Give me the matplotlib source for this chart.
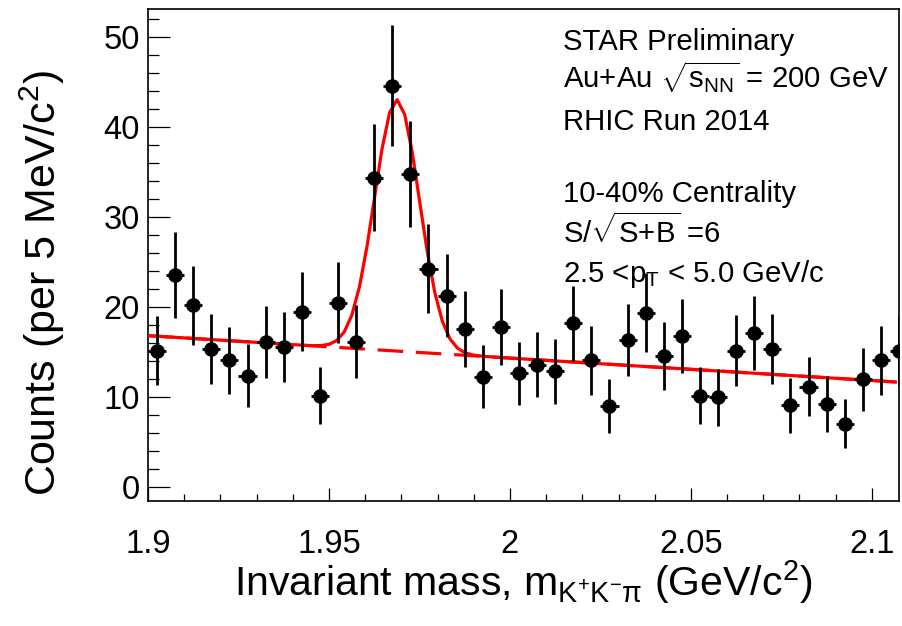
import numpy as np
import matplotlib
matplotlib.use("Agg")
import matplotlib.pyplot as plt
from matplotlib.ticker import MultipleLocator

plt.rcParams['font.family'] = ['Liberation Sans', 'DejaVu Sans']
plt.rcParams['mathtext.fontset'] = 'custom'
plt.rcParams['mathtext.rm'] = 'Liberation Sans'
plt.rcParams['mathtext.it'] = 'Liberation Sans:italic'
plt.rcParams['mathtext.bf'] = 'Liberation Sans:bold'

# histogram: 5 MeV bins starting at 1.900 GeV
mass_lo = 1.900
bin_width = 0.005
counts = [15.2, 23.6, 20.2, 15.4, 14.1, 12.4, 16.1, 15.6, 19.5, 10.2,
          20.5, 16.2, 34.4, 44.6, 34.8, 24.3, 21.3, 17.6, 12.3, 17.8,
          12.7, 13.6, 12.9, 18.2, 14.1, 9.0, 16.4, 19.4, 14.6, 16.8,
          10.2, 10.0, 15.2, 17.1, 15.4, 9.1, 11.2, 9.3, 7.1, 12.0,
          14.1, 15.2]
errors = [3.8, 4.8, 4.4, 3.9, 3.7, 3.5, 4.0, 3.9, 4.4, 3.2,
          4.5, 4.0, 5.9, 6.7, 5.9, 4.9, 4.6, 4.2, 3.5, 4.2,
          3.5, 3.6, 3.6, 4.2, 3.8, 3.0, 4.0, 4.4, 3.8, 4.1,
          3.2, 3.2, 3.9, 4.1, 3.9, 3.0, 3.3, 3.1, 2.7, 3.5,
          3.8, 3.9]

# fit: gaussian + linear background
fit_mean = 1.9688
fit_sigma = 0.0062
fit_amp = 27.9
bg_at_lo = 16.85
bg_slope = -24.9
fit_range = (1.900, 2.1065)

centers = mass_lo + bin_width * (np.arange(len(counts)) + 0.5)

def background(x):
    return bg_at_lo + bg_slope * (x - mass_lo)

def total(x):
    return background(x) + fit_amp * np.exp(-0.5 * ((x - fit_mean) / fit_sigma) ** 2)

xf = np.linspace(fit_range[0], fit_range[1], 100)

fig = plt.figure(figsize=(9.03, 6.26), dpi=100)
ax = fig.add_axes([148 / 903, 1 - 501 / 626, 751 / 903, 492 / 626])

ax.plot(xf, background(xf), color='red', lw=2.3, dashes=(8, 4), zorder=2)
ax.plot(xf, total(xf), color='red', lw=2.3, zorder=3)
ax.errorbar(centers, counts, yerr=errors, xerr=bin_width / 2, fmt='o',
            color='black', ms=9.5, elinewidth=2.0, capsize=0, zorder=4,
            clip_on=True)

ax.set_xlim(1.9, 2.1075)
ax.set_ylim(-1.5, 53.1)

ax.xaxis.set_major_locator(MultipleLocator(0.05))
ax.xaxis.set_minor_locator(MultipleLocator(0.01))
ax.yaxis.set_major_locator(MultipleLocator(10))
ax.yaxis.set_minor_locator(MultipleLocator(2))
ax.xaxis.set_major_formatter(plt.FuncFormatter(lambda v, p: f'{v:g}'))

ax.tick_params(which='both', direction='in', top=False, right=False,
               width=0.9, labelsize=23.5)
ax.tick_params(axis='y', which='major', length=16, pad=6)
ax.tick_params(axis='y', which='minor', length=8)
ax.tick_params(axis='x', which='major', length=9.5, pad=20)
ax.tick_params(axis='x', which='minor', length=5)
for s in ax.spines.values():
    s.set_linewidth(1.2)

ax.set_ylabel(r'Counts (per 5 MeV/c$^{2}$)', fontsize=31)
ax.yaxis.set_label_coords(-0.108, 0.443)
ax.set_xlabel(r'Invariant mass, m$_{\mathrm{K^{+}K^{-}\pi}}$ (GeV/c$^{2}$)', fontsize=29.5)
ax.xaxis.set_label_coords(0.5, -0.116)

lines = [
    (0.9167, 'STAR Preliminary'),
    (0.8394, r'Au+Au $\sqrt{\mathrm{s}_{\mathrm{NN}}}$ = 200 GeV'),
    (0.754, 'RHIC Run 2014'),
    (0.6077, '10-40% Centrality'),
    (0.5244, r'S/$\sqrt{\mathrm{S{+}B}}$ =6'),
    (0.4451, r'2.5 <$\mathrm{p_{T}}$ < 5.0 GeV/c'),
]
for yy, txt in lines:
    ax.text(0.5526, yy, txt, transform=ax.transAxes, fontsize=21.2,
            va='baseline', ha='left')

fig.savefig('out.png', dpi=100)
